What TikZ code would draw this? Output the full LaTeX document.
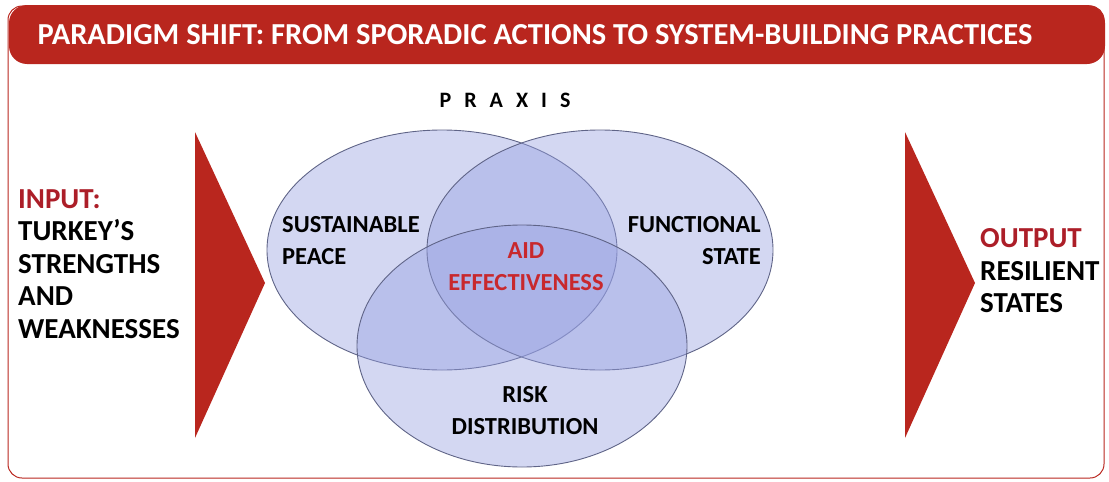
\documentclass[tikz,border=0pt]{standalone}
\usepackage{fontspec}
\setmainfont{Carlito}

\begin{document}
\begin{tikzpicture}[x=1pt, y=-1pt]

  \definecolor{shiftred}{RGB}{185, 38, 30}
  \definecolor{labelred}{RGB}{172, 30, 40}
  \definecolor{aidred}{RGB}{200, 40, 45}
  \definecolor{vennfill}{RGB}{150, 160, 225}
  \definecolor{vennline}{RGB}{95, 100, 135}

  \tikzset{
    venn/.style={fill=vennfill, fill opacity=0.42, draw=vennline, draw opacity=1, line width=0.9pt},
    lbl/.style={font=\fontsize{24.5}{32}\selectfont\bfseries, inner sep=0pt},
    side/.style={font=\fontsize{29}{32.5}\selectfont\bfseries, inner sep=0pt, anchor=west, align=left},
  }

  \useasboundingbox (0, 0) rectangle (1109, 482);

  % Frame and header bar
  \draw[shiftred, line width=1pt, rounded corners=14] (8, 6) rectangle (1104, 478);
  \fill[shiftred, rounded corners=18] (9, 5) rectangle (1105, 64);
  \node[lbl, white, font=\fontsize{30.5}{34}\selectfont\bfseries] (title) at (535, 35)
    {PARADIGM SHIFT: FROM SPORADIC ACTIONS TO SYSTEM-BUILDING PRACTICES};

  % Input and output arrows
  \fill[shiftred] (195, 132) -- (265, 283) -- (195, 438) -- cycle;
  \fill[shiftred] (905, 132) -- (975, 283) -- (905, 438) -- cycle;

  % Three sets
  \filldraw[venn] (442, 250) ellipse [x radius=175, y radius=120];
  \filldraw[venn] (600, 250) ellipse [x radius=173, y radius=120];
  \filldraw[venn] (522, 346) ellipse [x radius=165, y radius=121];

  % Labels
  \node[lbl, font=\fontsize{22}{26}\selectfont\bfseries] (praxis) at (505, 100)
    {P\hspace{13pt}R\hspace{13pt}A\hspace{13pt}X\hspace{13pt}I\hspace{13pt}S};

  \node[side] (input) at (18, 264)
    {\textcolor{labelred}{INPUT:}\\TURKEY’S\\STRENGTHS\\AND\\WEAKNESSES};
  \node[side] (output) at (980, 271)
    {\textcolor{labelred}{OUTPUT}\\RESILIENT\\STATES};

  \node[lbl, anchor=west, align=left] (peace) at (282, 241) {SUSTAINABLE\\PEACE};
  \node[lbl, anchor=east, align=right] (state) at (761, 241) {FUNCTIONAL\\STATE};
  \node[lbl, aidred, align=center] (aid) at (526, 267) {AID\\EFFECTIVENESS};
  \node[lbl, align=center] (risk) at (525, 411) {RISK\\DISTRIBUTION};

\end{tikzpicture}
\end{document}
